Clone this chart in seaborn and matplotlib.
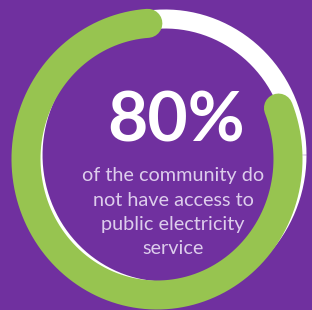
import numpy as np
import pandas as pd
import seaborn as sns
import matplotlib.pyplot as plt

sns.set_theme(style="white")
plt.rcParams['font.family'] = ['Lato', 'DejaVu Sans']

# data
share_pct = 80
headline = "80%"
caption_lines = ["of the community do", "not have access to", "public electricity", "service"]

bg = "#70309f"
green = "#97c450"
track = "#ffffff"
caption_col = "#ddcdec"

fig = plt.figure(figsize=(3.12, 3.10), dpi=100, facecolor=bg)
ax = fig.add_axes([0, 0, 1, 1])
ax.set_facecolor(bg)


def ring(cx, cy, rx, ry, start, frac, n=400):
    # angles in degrees, counter-clockwise from 3 o'clock
    t = np.radians(start + np.linspace(0, 360 * frac / 100, n))
    return pd.DataFrame({"x": cx + rx * np.cos(t), "y": cy - ry * np.sin(t)})


# white background track
trk = ring(165, 155, 132, 136, 0, 100)
sns.lineplot(data=trk, x="x", y="y", sort=False, estimator=None, errorbar=None,
             color=track, lw=13.7, ax=ax, solid_capstyle="butt")

# green progress arc
arc = ring(157, 159, 131, 136, 94, share_pct)
sns.lineplot(data=arc, x="x", y="y", sort=False, estimator=None, errorbar=None,
             color=green, lw=20.9, ax=ax, solid_capstyle="round")

ax.set_xlim(0, 312)
ax.set_ylim(310, 0)
ax.axis("off")

ax.text(176, 142, headline, ha="center", va="baseline", color="white",
        fontsize=50, fontweight="bold")
for k, line in enumerate(caption_lines):
    ax.text(173, 181 + k * 24.5, line, ha="center", va="baseline", color=caption_col,
            fontsize=14.3, fontweight="normal")

fig.savefig("out.png", dpi=100, facecolor=bg)
